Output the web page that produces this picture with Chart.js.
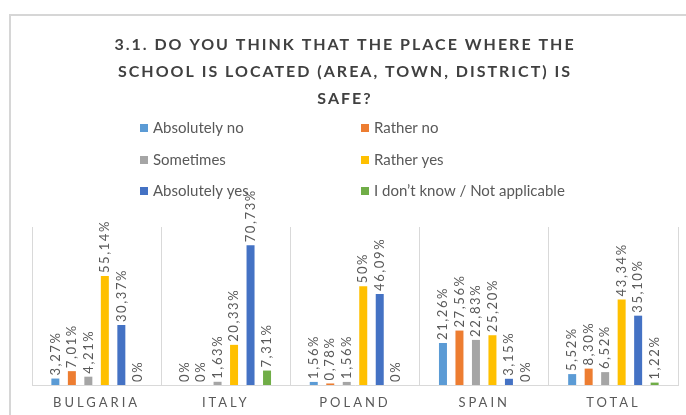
<!DOCTYPE html>
<html>
<head>
<meta charset="utf-8">
<script src="https://cdn.jsdelivr.net/npm/chart.js@4.4.1/dist/chart.umd.min.js"></script>
<style>
  html, body { margin: 0; padding: 0; background: #ffffff; }
  #wrap { position: relative; width: 686px; height: 415px; }
</style>
</head>
<body>
<div id="wrap"><canvas id="c" width="686" height="415"></canvas></div>
<script>
const titleLines = ["3.1. DO YOU THINK THAT THE PLACE WHERE THE", "SCHOOL IS LOCATED (AREA, TOWN, DISTRICT) IS", "SAFE?"];
const categories = ["BULGARIA", "ITALY", "POLAND", "SPAIN", "TOTAL"];
const seriesNames = ["Absolutely no", "Rather no", "Sometimes", "Rather yes", "Absolutely yes", "I don\u2019t know / Not applicable"];
const absolutelyNo = [3.27, 0, 1.56, 21.26, 5.52];
const ratherNo = [7.01, 0, 0.78, 27.56, 8.30];
const sometimes = [4.21, 1.63, 1.56, 22.83, 6.52];
const ratherYes = [55.14, 20.33, 50, 25.20, 43.34];
const absolutelyYes = [30.37, 70.73, 46.09, 3.15, 35.10];
const dontKnow = [0, 7.31, 0, 0, 1.22];
const seriesColors = ["#5B9BD5", "#ED7D31", "#A5A5A5", "#FFC000", "#4472C4", "#70AD47"];

const allSeries = [absolutelyNo, ratherNo, sometimes, ratherYes, absolutelyYes, dontKnow];

function fmt(v) {
  if (Number.isInteger(v)) return v + "%";
  return v.toFixed(2).replace(".", ",") + "%";
}

const FONT = "Lato, 'Open Sans', sans-serif";
const GREY = "#595959";

const decor = {
  id: "decor",
  beforeDraw(chart) {
    const ctx = chart.ctx;
    ctx.save();
    ctx.strokeStyle = "#d6d6d6";
    ctx.lineWidth = 2;
    ctx.beginPath();
    ctx.moveTo(10, 430);
    ctx.lineTo(10, 15);
    ctx.lineTo(700, 15);
    ctx.stroke();
    ctx.restore();
    // letter spacing for category ticks drawn by the library
    ctx.letterSpacing = "3px";
  },
  afterDatasetsDraw(chart) {
    const ctx = chart.ctx;
    ctx.save();
    ctx.letterSpacing = "1.6px";
    ctx.font = "13px " + FONT;
    ctx.fillStyle = GREY;
    ctx.textAlign = "left";
    ctx.textBaseline = "middle";
    chart.data.datasets.forEach((ds, di) => {
      const meta = chart.getDatasetMeta(di);
      meta.data.forEach((el, i) => {
        ctx.save();
        ctx.translate(el.x, el.y - 3);
        ctx.rotate(-Math.PI / 2);
        ctx.fillText(fmt(ds.data[i]), 0, 0);
        ctx.restore();
      });
    });
    ctx.restore();
  },
  afterDraw(chart) {
    const ctx = chart.ctx;
    ctx.save();
    // title
    ctx.letterSpacing = "2px";
    ctx.font = "bold 16px " + FONT;
    ctx.fillStyle = "#404040";
    ctx.textAlign = "center";
    ctx.textBaseline = "middle";
    const ty = [45, 72, 99];
    titleLines.forEach((t, i) => ctx.fillText(t, 345, ty[i]));
    // legend
    ctx.letterSpacing = "0px";
    ctx.font = "15px " + FONT;
    ctx.textAlign = "left";
    const colX = [140, 361];
    const rowY = [128, 160, 191];
    chart.data.datasets.forEach((ds, i) => {
      const x = colX[i % 2];
      const y = rowY[Math.floor(i / 2)];
      ctx.fillStyle = ds.backgroundColor;
      ctx.fillRect(x, y - 4, 8, 8);
      ctx.fillStyle = GREY;
      ctx.fillText(ds.label, x + 13, y);
    });
    ctx.restore();
  }
};

new Chart(document.getElementById("c"), {
  type: "bar",
  data: {
    labels: categories,
    datasets: allSeries.map((d, i) => ({
      label: seriesNames[i],
      data: d,
      backgroundColor: seriesColors[i],
      categoryPercentage: 0.766,
      barPercentage: 0.485
    }))
  },
  options: {
    responsive: false,
    animation: false,
    devicePixelRatio: 1,
    layout: { padding: { left: 32, right: 8, top: 227, bottom: 0 } },
    plugins: { legend: { display: false }, title: { display: false }, tooltip: { enabled: false } },
    scales: {
      x: {
        offset: true,
        grid: { display: true, offset: true, color: "#d9d9d9", drawTicks: false, lineWidth: 1 },
        border: { display: true, color: "#d9d9d9" },
        ticks: { color: GREY, font: { family: FONT, size: 13 }, padding: 10, maxRotation: 0 },
        afterFit(s) { s.height = 30; }
      },
      y: {
        display: false,
        min: 0,
        max: 80
      }
    }
  },
  plugins: [decor]
});
</script>
</body>
</html>
